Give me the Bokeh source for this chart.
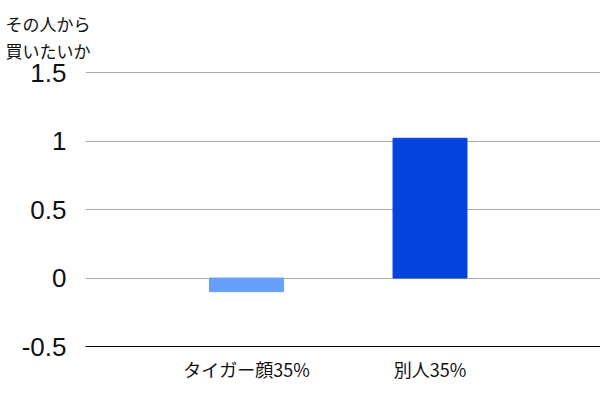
from bokeh.plotting import figure
from bokeh.models import FixedTicker
from bokeh.embed import file_html
from bokeh.resources import INLINE

categories = ["タイガー顔35%", "別人35%"]
values = [-0.10, 1.02]
colors = ["#67a0fc", "#0444dd"]
y_ticks = [-0.5, 0, 0.5, 1, 1.5]
y_tick_labels = ["-0.5", "0", "0.5", "1", "1.5"]
y_title = ["その人から", "買いたいか"]

xs = [i + 1 for i in range(len(categories))]

p = figure(width=600, height=400, output_backend="svg", toolbar_location=None,
           x_range=(0.1226, 2.929), y_range=(-0.5, 1.5146),
           min_border_left=85, min_border_right=0, min_border_top=70, min_border_bottom=54)
p.outline_line_color = None
p.background_fill_color = "white"
p.border_fill_color = "white"

p.vbar(x=xs, top=values, bottom=0, width=0.403, color=colors)

p.xgrid.grid_line_color = None
p.ygrid.ticker = FixedTicker(ticks=y_ticks)
p.ygrid.grid_line_color = "#aaaaaa"
p.ygrid.grid_line_width = 1

p.yaxis.ticker = FixedTicker(ticks=y_ticks)
p.yaxis.major_label_overrides = {t: l for t, l in zip(y_ticks, y_tick_labels)}
p.yaxis.axis_line_color = None
p.yaxis.major_tick_line_color = None
p.yaxis.minor_tick_line_color = None
p.yaxis.major_tick_out = 0
p.yaxis.major_tick_in = 0
p.yaxis.minor_tick_out = 0
p.yaxis.major_label_standoff = 19
p.yaxis.major_label_text_font = "Liberation Sans"
p.yaxis.major_label_text_font_size = "26px"
p.yaxis.major_label_text_color = "#111111"

p.xaxis.ticker = FixedTicker(ticks=xs)
p.xaxis.major_label_overrides = {x: c for x, c in zip(xs, categories)}
p.xaxis.axis_line_color = "black"
p.xaxis.axis_line_width = 1
p.xaxis.major_tick_line_color = None
p.xaxis.minor_tick_line_color = None
p.xaxis.major_tick_out = 0
p.xaxis.major_tick_in = 0
p.xaxis.minor_tick_out = 0
p.xaxis.major_label_standoff = 9
p.xaxis.major_label_text_font = "Noto Sans CJK JP"
p.xaxis.major_label_text_font_size = "18px"
p.xaxis.major_label_text_color = "#111111"

p.title.text = "\n".join(y_title)
p.title.align = "left"
p.title.offset = -80
p.title.standoff = 15
p.title.text_font = "Noto Sans CJK JP"
p.title.text_font_size = "17px"
p.title.text_font_style = "normal"
p.title.text_line_height = 1.10
p.title.text_color = "#111111"

open("out.html", "w").write(file_html(p, INLINE))
